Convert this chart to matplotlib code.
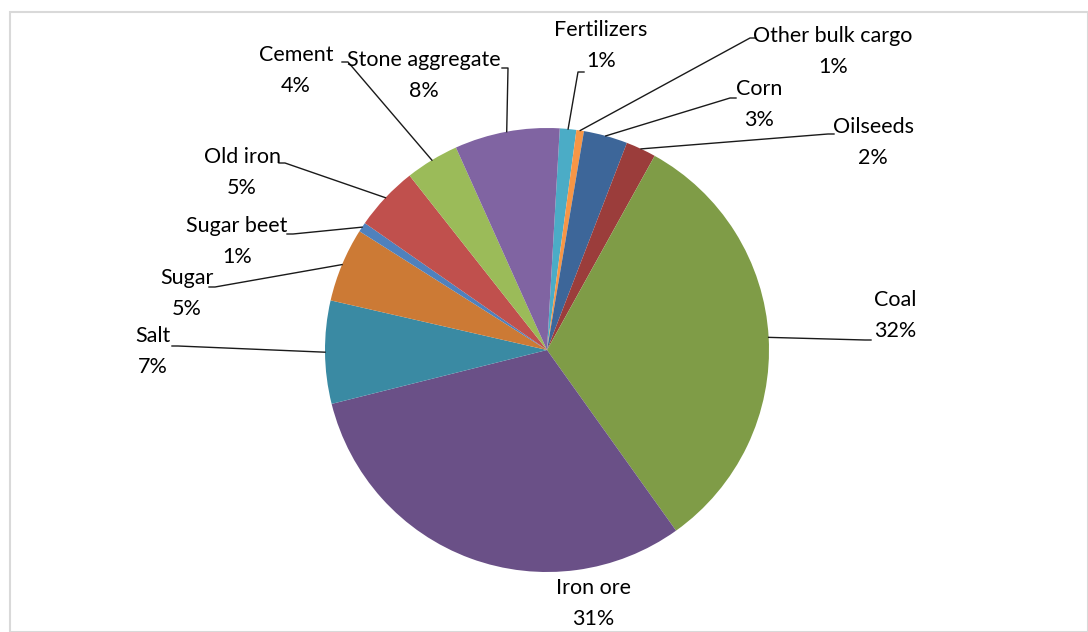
import matplotlib
matplotlib.use("Agg")
import matplotlib.pyplot as plt
import numpy as np
from matplotlib.patches import Rectangle

categories = ["Fertilizers", "Other bulk cargo", "Corn", "Oilseeds", "Coal", "Iron ore",
              "Salt", "Sugar", "Sugar beet", "Old iron", "Cement", "Stone aggregate"]
values = [1.2, 0.55, 3.2, 2.2, 32.1, 31.0, 7.5, 5.4, 0.7, 4.7, 3.9, 7.65]
pct_labels = ["1%", "1%", "3%", "2%", "32%", "31%", "7%", "5%", "1%", "5%", "4%", "8%"]
colors = ["#4BACC6", "#F79646", "#3D6699", "#9B3D3B", "#7F9C47", "#6A5087",
          "#3A8AA3", "#CC7A35", "#4F81BD", "#C0504D", "#9BBB59", "#8064A2"]

W, H = 1088, 632
fig = plt.figure(figsize=(W / 100, H / 100), dpi=100)
ax = fig.add_axes([0, 0, 1, 1])

cx, cy, R = 547, 350, 222
start_deg = 3.3  # clockwise from 12 o'clock

# y axis is inverted below, so counterclock=True draws clockwise on screen
wedges, _ = ax.pie(values, colors=colors, center=(cx, cy), radius=R,
                   startangle=-90 + start_deg, counterclock=True,
                   wedgeprops=dict(linewidth=0), frame=True)
ax.set_xlim(0, W)
ax.set_ylim(H, 0)
ax.set_aspect("equal")
ax.axis("off")

# border
ax.add_patch(Rectangle((10, 12), W - 10, H - 12, fill=False, edgecolor="#D9D9D9", lw=1.5))

# label layout: (text center x, first-line center y, leader end x, leader end y)
label_pos = {
    "Fertilizers": (601, 30, 578, 72),
    "Other bulk cargo": (833, 36, 750, 38),
    "Corn": (759, 89, 730, 98),
    "Oilseeds": (873, 127, 828, 134),
    "Coal": (895, 300, 865, 340),
    "Iron ore": (593, 588, None, None),
    "Salt": (153, 336, 178, 346),
    "Sugar": (187, 278, 215, 287),
    "Sugar beet": (237, 226, 293, 234),
    "Old iron": (242, 157, 285, 163),
    "Cement": (296, 55, 348, 62),
    "Stone aggregate": (424, 60, 508, 68),
}

font = dict(family=["Lato", "DejaVu Sans"], fontsize=15.5, color="#000000")
vals = np.array(values)
cum = np.cumsum(vals) / vals.sum() * 360
mids = start_deg + cum - vals / vals.sum() * 360 / 2
for cat, pct, mid in zip(categories, pct_labels, mids):
    tx, ty, lx, ly = label_pos[cat]
    ax.text(tx, ty, cat, ha="center", va="center", **font)
    ax.text(tx, ty + 31, pct, ha="center", va="center", **font)
    if lx is not None:
        th = np.deg2rad(mid)
        px, py = cx + R * np.sin(th), cy - R * np.cos(th)
        if px > tx:
            ax.plot([px, lx, lx - 6], [py, ly, ly], color="#1a1a1a", lw=1)
        else:
            ax.plot([px, lx, lx + 6], [py, ly, ly], color="#1a1a1a", lw=1)

fig.savefig("out.png", dpi=100)
